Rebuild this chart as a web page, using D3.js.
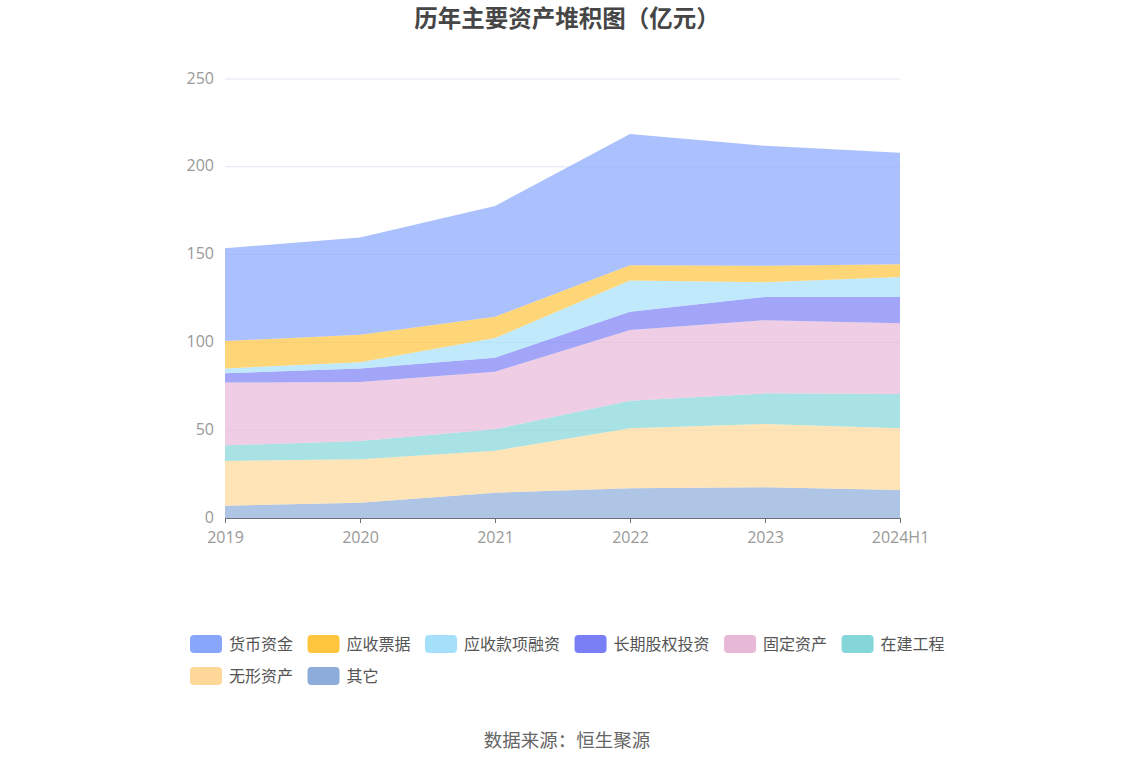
<!DOCTYPE html>
<html><head><meta charset="utf-8">
<script src="https://cdn.jsdelivr.net/npm/d3@7/dist/d3.min.js"></script>
<style>body{margin:0;background:#fff;}svg{display:block;font-family:"Noto Sans CJK SC","Noto Sans",sans-serif;}</style>
</head><body>
<svg id="c" width="1134" height="766"></svg>
<script>
const categories = ["2019","2020","2021","2022","2023","2024H1"];
const seriesNames = ["货币资金","应收票据","应收款项融资","长期股权投资","固定资产","在建工程","无形资产","其它"];
const cash       = [52.8, 55.4, 63.1, 74.8, 68.3, 63.5];
const notes      = [15.6, 15.7, 12.1, 8.7, 9.5, 7.3];
const recFin     = [2.8, 3.5, 11.2, 17.7, 8.3, 11.3];
const ltEquity   = [5.3, 7.8, 8.0, 10.4, 13.3, 15.0];
const fixedAsset = [35.7, 33.6, 32.8, 40.3, 41.6, 40.3];
const construct  = [8.9, 10.4, 12.2, 15.7, 17.5, 19.5];
const intangible = [25.5, 24.7, 23.9, 34.2, 36.0, 35.2];
const other      = [7.0, 8.7, 14.4, 16.9, 17.5, 15.9];
const yTicks = [0, 50, 100, 150, 200, 250];
const colors = ["#88a6fc","#ffc53d","#a5e0fb","#7b7ff5","#e8b8d8","#84d6d9","#ffd899","#8dacda"];

const seriesValues = [cash, notes, recFin, ltEquity, fixedAsset, construct, intangible, other];
const svg = d3.select("#c");
const L = 225, R = 900, T = 79, B = 518;

const x = d3.scalePoint().domain(categories).range([L, R]);
const y = d3.scaleLinear().domain([0, 250]).range([B, T]);

// title
svg.append("text").attr("x", 567).attr("y", 27).attr("text-anchor","middle")
  .attr("font-size", 23.5).attr("font-weight", "bold").attr("fill", "#464646")
  .text("历年主要资产堆积图（亿元）");

// grid
svg.append("g").selectAll("line").data(yTicks.filter(d => d > 0)).join("line")
  .attr("x1", L).attr("x2", R).attr("y1", d => y(d)).attr("y2", d => y(d))
  .attr("stroke", "#e0e6f1").attr("stroke-width", 1);

// stacked data: bottom is last series
const rows = categories.map((c, i) => {
  const o = {cat: c};
  seriesNames.forEach((n, k) => o[n] = seriesValues[k][i]);
  return o;
});
const stackOrder = seriesNames.slice().reverse();
const stacked = d3.stack().keys(stackOrder)(rows);
const area = d3.area().x(d => x(d.data.cat)).y0(d => y(d[0])).y1(d => y(d[1]));
svg.append("g").selectAll("path").data(stacked).join("path")
  .attr("d", area)
  .attr("fill", d => colors[seriesNames.indexOf(d.key)])
  .attr("fill-opacity", 0.7);

// y axis labels
svg.append("g").selectAll("text").data(yTicks).join("text")
  .attr("x", L - 11).attr("y", d => y(d) - 1).attr("dy", "0.35em")
  .attr("text-anchor", "end").attr("font-size", 16).attr("fill", "#999")
  .attr("font-family", "'Open Sans',sans-serif")
  .text(d => d);

// x axis
const xa = svg.append("g").attr("transform", `translate(0,${B})`)
  .call(d3.axisBottom(x).tickSize(5).tickPadding(9));
xa.select(".domain").attr("stroke", "#6e7079").attr("stroke-width", 1.2).attr("d", `M${L},0.5H${R}`);
xa.selectAll(".tick line").attr("stroke", "#6e7079");
xa.selectAll(".tick text").attr("font-size", 16).attr("fill", "#999")
  .attr("font-family", "'Open Sans',sans-serif");

// legend
const lg = svg.append("g");
let lx = 190, ly = 644;
const maxX = 960;
seriesNames.forEach((n, k) => {
  const g = lg.append("g");
  const t = g.append("text").attr("font-size", 16).attr("fill", "#555").text(n);
  const w = t.node().getComputedTextLength();
  const itemW = 32 + 7 + w;
  if (lx + itemW > maxX) { lx = 190; ly += 32; }
  g.append("rect").attr("x", lx).attr("y", ly - 9).attr("width", 32).attr("height", 18)
    .attr("rx", 4).attr("fill", colors[k]);
  t.attr("x", lx + 39).attr("y", ly).attr("dy", "0.35em");
  lx += itemW + 14.5;
});

// source
svg.append("text").attr("x", 567).attr("y", 741).attr("dy", "0.35em").attr("text-anchor", "middle")
  .attr("font-size", 18.5).attr("fill", "#666").text("数据来源：恒生聚源");
</script>
</body></html>
